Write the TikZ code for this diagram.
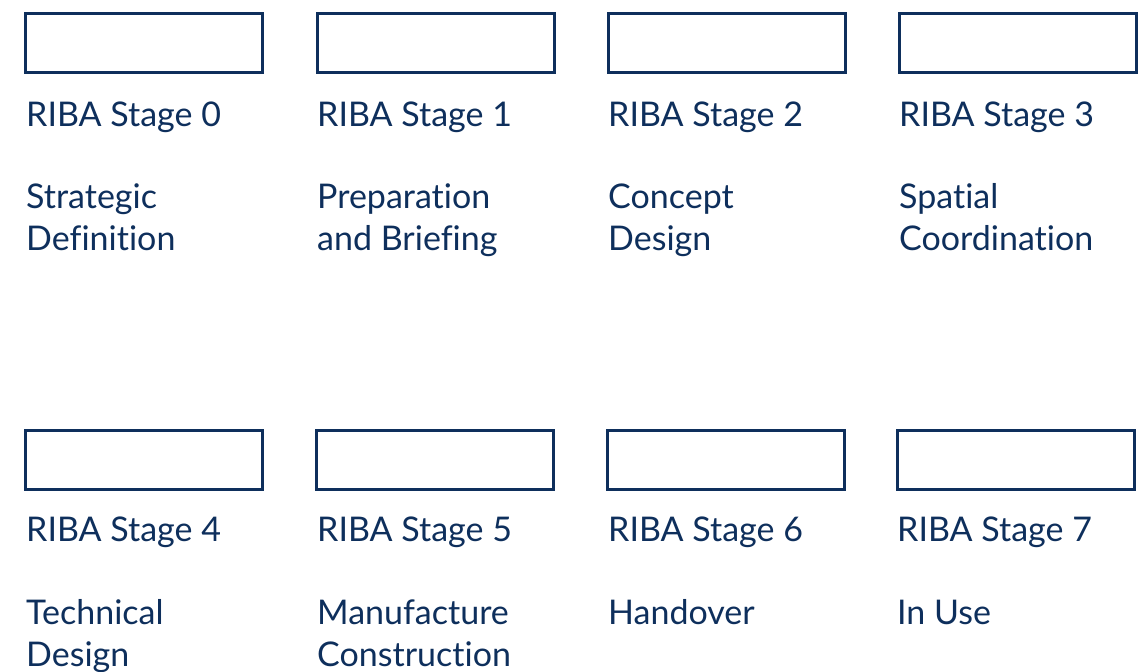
\documentclass[tikz,border=0pt]{standalone}
\usepackage{fontspec}
\setmainfont{Lato}[Ligatures=NoCommon]
\definecolor{navy}{HTML}{0E2F5C}
\begin{document}
\begin{tikzpicture}[x=1pt,y=-1pt,
  stagebox/.style={draw=navy,line width=3pt,minimum width=237pt,minimum height=58.5pt,inner sep=0pt},
  lbl/.style={anchor=base west,inner sep=0pt,text=navy,font=\fontsize{34}{42}\selectfont}]
\useasboundingbox (0,0) rectangle (1138,672);
% row 1
\node[stagebox] (b0) at (144,43.2) {};
\node[stagebox] (b1) at (435.5,43.2) {};
\node[stagebox] (b2) at (726.5,43.2) {};
\node[stagebox] (b3) at (1017.5,43.2) {};
\node[lbl] (t0) at (26,126) {RIBA Stage 0};
\node[lbl] (t1) at (317,126) {RIBA Stage 1};
\node[lbl] (t2) at (608,126) {RIBA Stage 2};
\node[lbl] (t3) at (899,126) {RIBA Stage 3};
\node[lbl] (n0a) at (26,208) {Strategic};
\node[lbl] (n0b) at (26,250) {Definition};
\node[lbl] (n1a) at (317,208) {Preparation};
\node[lbl] (n1b) at (317,250) {and Briefing};
\node[lbl] (n2a) at (608,208) {Concept};
\node[lbl] (n2b) at (608,250) {Design};
\node[lbl] (n3a) at (899,208) {Spatial};
\node[lbl] (n3b) at (899,250) {Coordination};
% row 2
\node[stagebox] (b4) at (144,460) {};
\node[stagebox] (b5) at (435,460) {};
\node[stagebox] (b6) at (726,460) {};
\node[stagebox] (b7) at (1015.5,460) {};
\node[lbl] (t4) at (26,541) {RIBA Stage 4};
\node[lbl] (t5) at (317,541) {RIBA Stage 5};
\node[lbl] (t6) at (608,541) {RIBA Stage 6};
\node[lbl] (t7) at (897,541) {RIBA Stage 7};
\node[lbl] (n4a) at (26,624) {Technical};
\node[lbl] (n4b) at (26,666) {Design};
\node[lbl] (n5a) at (317,624) {Manufacture};
\node[lbl] (n5b) at (317,666) {Construction};
\node[lbl] (n6a) at (608,624) {Handover};
\node[lbl] (n7a) at (897,624) {In Use};
\end{tikzpicture}
\end{document}
